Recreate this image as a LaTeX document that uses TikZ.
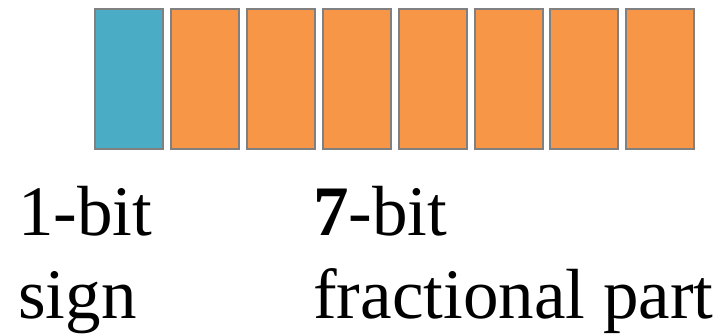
\documentclass[tikz,border=0pt]{standalone}
\usepackage{fontspec}
\setmainfont{Liberation Serif}
\usepackage{xcolor}
\usepackage{tikz}
\usetikzlibrary{positioning}

\definecolor{signblue}{HTML}{4BACC6}
\definecolor{fracorange}{HTML}{F79646}
\definecolor{boxgray}{HTML}{808080}

\begin{document}
\begin{tikzpicture}[x=1pt,y=-1pt,
  bitbox/.style={draw=boxgray,line width=2pt,minimum width=68pt,minimum height=140pt,inner sep=0pt,outer sep=0pt},
  lbl/.style={anchor=base west,inner sep=0pt,font=\fontsize{71}{83}\selectfont}]
  \useasboundingbox (0,0) rectangle (718,335);
  % sign bit
  \node[bitbox,fill=signblue] (b0) at (129,79) {};
  % fraction bits
  \foreach \i [remember=\i as \prev (initially 0)] in {1,...,7}{
    \node[bitbox,fill=fracorange,right=7.9pt of b\prev] (b\i) {};
  }
  % labels
  \node[lbl] (signtop) at (18,235) {1-bit};
  \node[lbl] (signbot) at (18,318) {sign};
  \node[lbl] (fractop) at (313,235) {\textbf{7}-bit};
  \node[lbl] (fracbot) at (313,318) {fractional part};
\end{tikzpicture}
\end{document}
